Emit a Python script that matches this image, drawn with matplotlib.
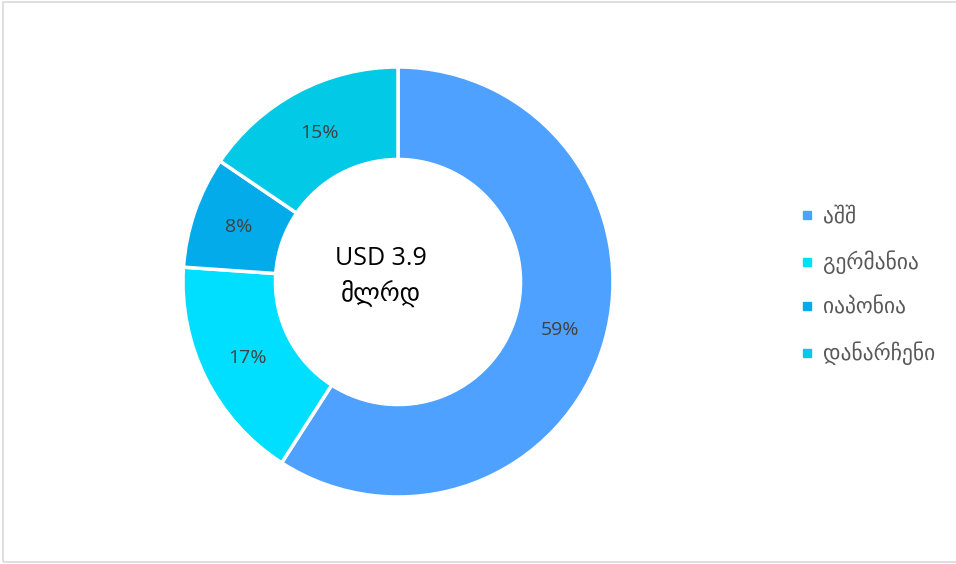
import matplotlib.pyplot as plt
from matplotlib.lines import Line2D
from matplotlib.patches import Rectangle

labels = ["აშშ", "გერმანია", "იაპონია", "დანარჩენი"]
shares = [59.1, 17.0, 8.4, 15.5]          # slice sizes
pct_labels = ["59%", "17%", "8%", "15%"]  # labels as printed on the chart
colors = ["#4EA1FF", "#00DFFF", "#04ABEB", "#02C9E6"]
center_text = "USD 3.9\nმლრდ"

W, H = 956, 564
fig = plt.figure(figsize=(W / 100, H / 100), dpi=100, facecolor="white")

# chart frame
fig.patches.append(Rectangle((3 / W, 2 / H), 1.0, (H - 3.5) / H, transform=fig.transFigure,
                             fill=False, edgecolor="#D9D9D9", lw=1.2))

cx, cy, R = 398, 282, 215
ax = fig.add_axes([(cx - R) / W, (H - cy - R) / H, 2 * R / W, 2 * R / H])
wedges, texts, autotexts = ax.pie(
    shares, colors=colors, startangle=90, counterclock=False,
    autopct="%.0f", pctdistance=0.785,
    wedgeprops=dict(width=0.43, edgecolor="white", linewidth=2.5),
    textprops=dict(fontsize=14, color="#404040", family=["Open Sans", "DejaVu Sans"]),
)
for t, s in zip(autotexts, pct_labels):
    t.set_text(s)
ax.set_xlim(-1, 1)
ax.set_ylim(-1, 1)
ax.set_aspect("equal")
ax.axis("off")

ax.text(-0.08, 0.025, center_text, ha="center", va="center", fontsize=18, color="black",
        linespacing=1.45, family=["Open Sans", "DejaVu Sans"])

handles = [Line2D([], [], marker="s", ls="", color=c, markersize=6) for c in colors]
fig.legend(handles, labels, loc="center left", bbox_to_anchor=(781 / W, 1 - 286 / H),
           frameon=False, handlelength=0.6, handletextpad=0.45, labelspacing=1.1,
           prop=dict(family="DejaVu Sans", size=15.5), labelcolor="#595959")

fig.savefig("out.png", dpi=100, facecolor="white")
